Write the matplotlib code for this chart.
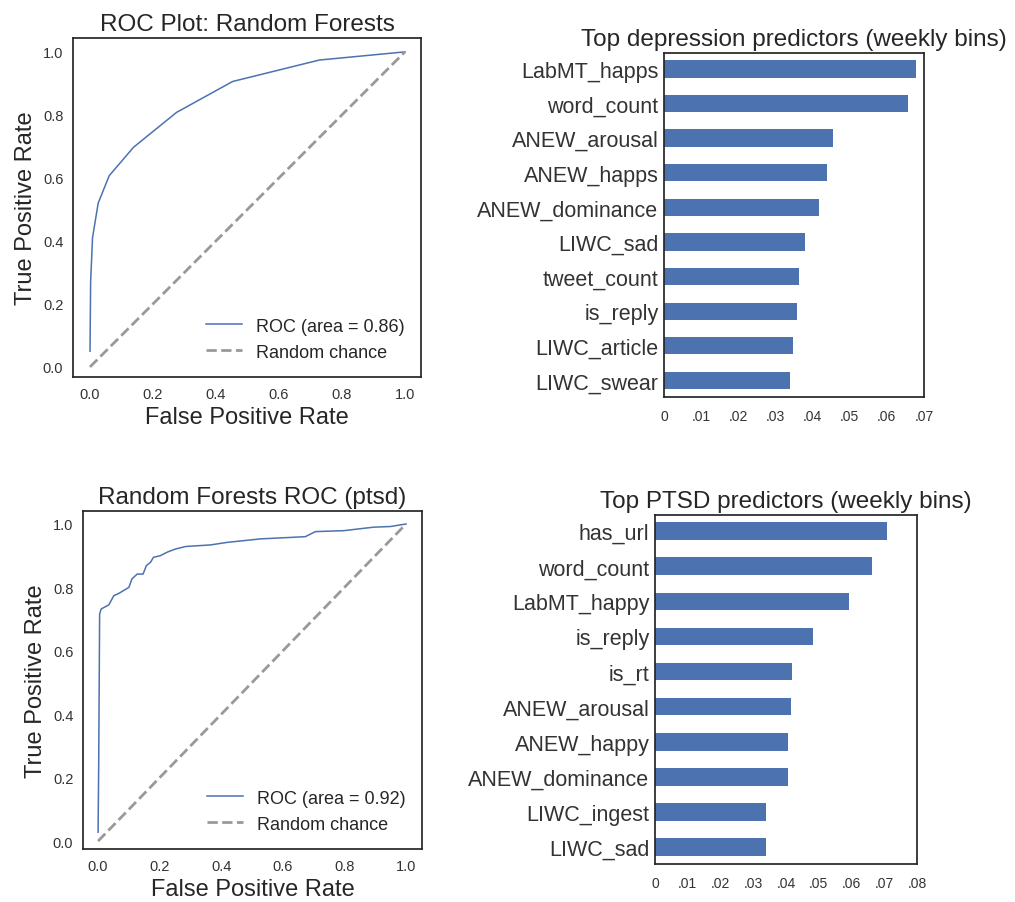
import numpy as np
import matplotlib
matplotlib.use("Agg")
import matplotlib.pyplot as plt

plt.rcParams['font.family'] = ['Liberation Sans', 'DejaVu Sans']
plt.rcParams['text.color'] = '.15'
plt.rcParams['axes.labelcolor'] = '.15'
plt.rcParams['xtick.color'] = '.2'
plt.rcParams['ytick.color'] = '.2'

# --- dados ---
# ROC depressao
dep_fpr = [0.0, 0.002, 0.008, 0.026, 0.061, 0.138, 0.275, 0.453, 0.728, 1.0]
dep_tpr = [0.05, 0.27, 0.41, 0.52, 0.607, 0.697, 0.808, 0.906, 0.974, 1.0]
dep_auc = 0.86

# ROC ptsd
ptsd_fpr = [0.0, 0.002, 0.005, 0.01, 0.035, 0.051, 0.067, 0.1, 0.11, 0.127, 0.146,
            0.157, 0.17, 0.18, 0.202, 0.224, 0.251, 0.284, 0.365, 0.419, 0.527,
            0.673, 0.706, 0.798, 0.895, 0.949, 1.0]
ptsd_tpr = [0.028, 0.244, 0.716, 0.732, 0.745, 0.774, 0.781, 0.80, 0.827, 0.842, 0.842,
            0.869, 0.879, 0.895, 0.90, 0.911, 0.921, 0.929, 0.934, 0.942, 0.953,
            0.96, 0.976, 0.979, 0.99, 0.992, 1.0]
ptsd_auc = 0.92

# importancias (de cima para baixo)
dep_features = ['LabMT_happs', 'word_count', 'ANEW_arousal', 'ANEW_happs',
                'ANEW_dominance', 'LIWC_sad', 'tweet_count', 'is_reply',
                'LIWC_article', 'LIWC_swear']
dep_importance = [0.0678, 0.0657, 0.0455, 0.0439, 0.0417, 0.0380, 0.0363,
                  0.0358, 0.0347, 0.0339]

ptsd_features = ['has_url', 'word_count', 'LabMT_happy', 'is_reply', 'is_rt',
                 'ANEW_arousal', 'ANEW_happy', 'ANEW_dominance', 'LIWC_ingest',
                 'LIWC_sad']
ptsd_importance = [0.0708, 0.0663, 0.0592, 0.0482, 0.0418, 0.0415, 0.0406,
                   0.0405, 0.0339, 0.0338]

dep_ticks = [0, .01, .02, .03, .04, .05, .06, .07]
dep_ticklabels = ['0', '.01', '.02', '.03', '.04', '.05', '.06', '.07']
ptsd_ticks = [0, .01, .02, .03, .04, .05, .06, .07, .08]
ptsd_ticklabels = ['0', '.01', '.02', '.03', '.04', '.05', '.06', '.07', '.08']

BLUE = '#4c72b0'
W, H = 1015, 903


def px_axes(fig, x0, y0, x1, y1):
    return fig.add_axes([x0 / W, 1 - y1 / H, (x1 - x0) / W, (y1 - y0) / H])


def style_frame(ax):
    for s in ax.spines.values():
        s.set_color('.15')
        s.set_linewidth(1.25)
    ax.tick_params(length=0)


def roc_plot(ax, fpr, tpr, auc, title, xlim, ylim):
    ax.plot(fpr, tpr, color=BLUE, lw=1.1, label='ROC (area = %0.2f)' % auc)
    ax.plot([0, 1], [0, 1], '--', color='#999999', lw=2, label='Random chance')
    ax.set_xlim(*xlim)
    ax.set_ylim(*ylim)
    ax.set_xticks([0, .2, .4, .6, .8, 1.0])
    ax.set_yticks([0, .2, .4, .6, .8, 1.0])
    ax.tick_params(labelsize=10.5, pad=7)
    ax.set_title(title, fontsize=17.5, pad=6)
    ax.set_xlabel('False Positive Rate', fontsize=17)
    ax.set_ylabel('True Positive Rate', fontsize=17)
    ax.legend(loc='lower right', frameon=False, fontsize=13, handlelength=2.0)
    style_frame(ax)


def bar_plot(ax, features, values, title, ticks, ticklabels):
    pos = np.arange(len(features))
    ax.barh(pos, values[::-1], height=0.5, color=BLUE)
    ax.set_yticks(pos)
    ax.set_yticklabels(features[::-1], fontsize=15.5)
    ax.set_xticks(ticks)
    ax.set_xticklabels(ticklabels, fontsize=10)
    ax.set_xlim(ticks[0], ticks[-1])
    ax.set_ylim(-0.48, len(features) - 0.54)
    ax.tick_params(axis='x', pad=9)
    ax.tick_params(axis='y', pad=4)
    ax.set_title(title, fontsize=17.5, pad=6)
    style_frame(ax)


fig = plt.figure(figsize=(W / 100, H / 100), dpi=100)

ax1 = px_axes(fig, 73, 39, 421, 378)
roc_plot(ax1, dep_fpr, dep_tpr, dep_auc, 'ROC Plot: Random Forests',
         (-0.054, 1.051), (-0.032, 1.044))

ax2 = px_axes(fig, 664, 54, 924, 398)
bar_plot(ax2, dep_features, dep_importance,
         'Top depression predictors (weekly bins)', dep_ticks, dep_ticklabels)

ax3 = px_axes(fig, 83, 512, 422, 850)
roc_plot(ax3, ptsd_fpr, ptsd_tpr, ptsd_auc, 'Random Forests ROC (ptsd)',
         (-0.049, 1.052), (-0.025, 1.041))

ax4 = px_axes(fig, 655, 516, 917, 865)
bar_plot(ax4, ptsd_features, ptsd_importance,
         'Top PTSD predictors (weekly bins)', ptsd_ticks, ptsd_ticklabels)

fig.savefig('out.png', dpi=100)
